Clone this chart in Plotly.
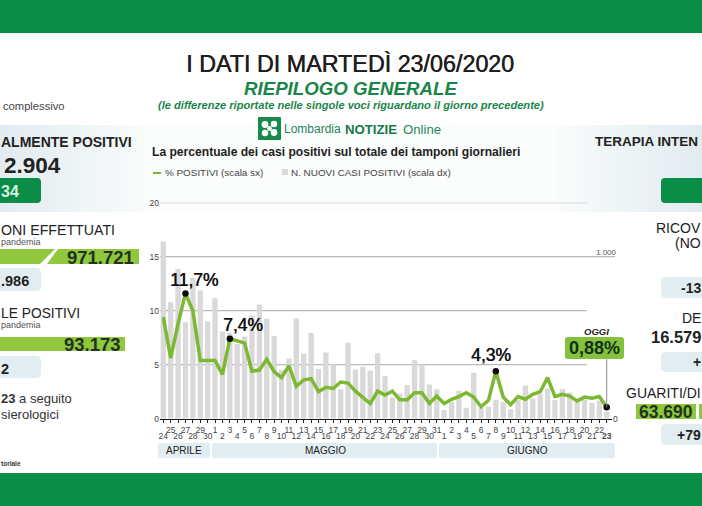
"""Lombardia daily bulletin: share of positive swabs and new cases, 23/06/2020."""
import plotly.graph_objects as go

W, H = 702, 506

# ── Data ─────────────────────────────────────────────────────────────────
day_labels = [
    '24', '25', '26', '27', '28', '29', '30',
    '1', '2', '3', '4', '5', '6', '7', '8', '9', '10', '11', '12', '13', '14', '15', '16',
    '17', '18', '19', '20', '21', '22', '23', '24', '25', '26', '27', '28', '29', '30', '31',
    '1', '2', '3', '4', '5', '6', '7', '8', '9', '10', '11', '12', '13', '14', '15', '16',
    '17', '18', '19', '20', '21', '22', '23',
]
new_cases = [
    1094, 719, 924, 596, 869, 791, 602,
    744, 539, 529, 463, 508, 637, 705, 617, 510, 300, 371, 619, 402, 529, 307, 408,
    336, 182, 469, 303, 320, 297, 404, 264, 131, 156, 207, 361, 334, 211, 182,
    53, 105, 172, 68, 283, 64, 74, 115, 105, 59, 115, 205, 125, 156, 186, 115,
    184, 162, 115, 119, 98, 111, 43,
]
pct_positive = [
    9.4, 5.6, 8.8, 11.6, 10.0, 5.4, 5.4,
    5.4, 4.1, 7.4, 7.2, 7.0, 4.4, 4.5, 5.5, 4.35, 3.8, 4.9, 3.0, 3.6, 3.7, 2.5, 2.9,
    2.8, 3.4, 3.3, 2.55, 2.0, 1.4, 2.55, 2.2, 2.55, 1.75, 1.75, 2.4, 2.4, 1.4, 2.1,
    1.4, 1.8, 2.05, 2.4, 2.0, 1.1, 1.7, 4.4, 2.0, 1.3, 2.05, 1.8, 2.25, 2.5, 3.8, 2.05,
    2.25, 2.1, 1.65, 2.0, 1.9, 2.05, 1.05,
]
highlight_days = [3, 9, 45, 60]
highlight_labels = ['11,7%', '7,4%', '4,3%']
left_ticks = [0, 5, 10, 15, 20]
months = ['APRILE', 'MAGGIO', 'GIUGNO']

days = list(range(len(day_labels)))

GREEN = '#0b8c47'
DARK_GREEN = '#1a8549'
LIME = '#8fc83c'
LINE_GREEN = '#7cb832'
PALE = '#e1edf0'
INK = '#222222'
FONT = 'Liberation Sans'


def px(x):
    return x / W


def py(y):
    return 1 - y / H


shapes = []
annotations = []


def rect(x0, y0, x1, y1, color, layer='below'):
    shapes.append(dict(type='rect', xref='paper', yref='paper', x0=px(x0), x1=px(x1),
                       y0=py(y0), y1=py(y1), fillcolor=color, line_width=0, layer=layer))


def poly(points, color):
    path = 'M ' + ' L '.join(f'{px(x):.5f} {py(y):.5f}' for x, y in points) + ' Z'
    shapes.append(dict(type='path', xref='paper', yref='paper', path=path,
                       fillcolor=color, line_width=0, layer='below'))


def round_box(x0, y0, x1, y1, color, r=4):
    # rounded corners, built as a path in paper units
    a, b, c, d = px(x0), px(x1), py(y0), py(y1)
    rx, ry = r / W, r / H
    path = (f'M {a + rx} {c} L {b - rx} {c} Q {b} {c} {b} {c - ry} L {b} {d + ry} '
            f'Q {b} {d} {b - rx} {d} L {a + rx} {d} Q {a} {d} {a} {d + ry} '
            f'L {a} {c - ry} Q {a} {c} {a + rx} {c} Z')
    shapes.append(dict(type='path', xref='paper', yref='paper', path=path,
                       fillcolor=color, line_width=0, layer='below'))


def text(x, y, s, size, color=INK, anchor='left', heavy=False):
    font = dict(family=FONT, size=size, color=color)
    if heavy:
        font['shadow'] = f'0.5px 0 0 {color}'
    annotations.append(dict(xref='paper', yref='paper', x=px(x), y=py(y), text=s,
                            showarrow=False, xanchor=anchor, yanchor='middle',
                            font=font, borderpad=0, borderwidth=0))


# ── Background bands and gradient panel ──────────────────────────────────
rect(0, 0, W, 33, GREEN)
rect(0, 473, W, H, GREEN)
rect(0, 125, W, 212, '#fbfcfc')
STEPS = 24
for i in range(STEPS):
    mix = 1 - i / STEPS
    r_, g_, b_ = (int(251 - (251 - 226) * mix), int(252 - (252 - 236) * mix), int(252 - (252 - 240) * mix))
    col = f'rgb({r_},{g_},{b_})'
    rect(i * 6, 125, (i + 1) * 6 + 0.5, 212, col)
    rect(W - (i + 1) * 6 - 0.5, 125, W - i * 6, 212, col)

# ── Header ───────────────────────────────────────────────────────────────
text(350, 64, 'I DATI DI MARTEDÌ 23/06/2020', 23.3, '#1e1e1e', 'center', heavy=True)
text(350, 89, '<b><i>RIEPILOGO GENERALE</i></b>', 18.7, DARK_GREEN, 'center')
text(351, 105, '<b><i>(le differenze riportate nelle singole voci riguardano il giorno precedente)</i></b>',
     11.1, DARK_GREEN, 'center')

# Logo
round_box(258, 117, 281, 140, '#17894b', r=1)
for dx, dy, s in [(-4.5, -4, 3.4), (4.5, -4.5, 3.2), (-4.5, 4.5, 3.2), (4.5, 4, 3.4), (0, 0, 2.4)]:
    shapes.append(dict(type='circle', xref='paper', yref='paper', fillcolor='#ffffff', line_width=0,
                       x0=px(269.5 + dx - s), x1=px(269.5 + dx + s),
                       y0=py(128.5 + dy + s), y1=py(128.5 + dy - s)))
text(284, 129, 'Lombardia', 12, '#27855a')
text(345, 129, '<b>NOTIZIE</b>', 13.2, '#17794b')
text(403, 129, 'Online', 13.2, '#27855a')

# Chart heading and hand-placed key
text(152, 152, '<b>La percentuale dei casi positivi sul totale dei tamponi giornalieri</b>', 12.1)
rect(153, 172, 161, 174, LINE_GREEN)
text(165, 172, '% POSITIVI (scala sx)', 9.9, '#444444')
rect(282, 169, 288, 175, '#d9d9d9')
text(291, 172, 'N. NUOVI CASI POSITIVI (scala dx)', 9.9, '#444444')

# ── Left column ──────────────────────────────────────────────────────────
text(3, 106, 'complessivo', 11.2, '#444444')
text(1, 142, '<b>ALMENTE POSITIVI</b>', 14)
text(4, 165, '<b>2.904</b>', 22.5)
round_box(-8, 178, 41, 203, GREEN, r=4)
text(1, 191, '<b>34</b>', 16, '#d8eee0')

text(1, 230, 'ONI EFFETTUATI', 14.2)
text(1, 242, 'pandemia', 9, '#555555')
poly([(0, 249), (55, 249), (40, 264), (0, 264)], LIME)
poly([(58, 249), (139, 249), (139, 264), (47, 264)], LIME)
text(67, 257, '<b>971.721</b>', 18.5, '#1f3320')
round_box(-8, 268, 41, 291, PALE, r=5)
text(1, 281, '<b>.986</b>', 14.5)

text(1, 313, 'LE POSITIVI', 13.8)
text(1, 325, 'pandemia', 9, '#555555')
rect(0, 337, 125, 351, LIME)
text(64, 344, '<b>93.173</b>', 18.5, '#1f3320')
round_box(-8, 356, 41, 378, PALE, r=5)
text(1, 369, '<b>2</b>', 14.5)

text(1, 398, '<b>23</b> a seguito', 13, '#333333')
text(1, 414, 'sierologici', 13, '#333333')
text(1, 463, '<b>toriale</b>', 6.5, '#333333')

# ── Right column ─────────────────────────────────────────────────────────
text(595, 142, '<b>TERAPIA INTEN</b>', 13.5)
round_box(661, 178, 710, 203, GREEN, r=4)
text(701, 228, 'RICOV', 14, anchor='right')
text(701, 243, '(NO', 14, anchor='right')
round_box(661, 277, 710, 298, PALE, r=5)
text(701, 288, '<b>-13</b>', 14, anchor='right')
text(701, 318, 'DE', 14, anchor='right')
text(701, 337, '<b>16.579</b>', 16.5, anchor='right')
round_box(661, 352, 710, 372, PALE, r=5)
text(701, 362, '<b>+</b>', 14, anchor='right')
text(701, 393, 'GUARITI/DI', 14, anchor='right')
rect(636, 404, 696, 419, LIME)
rect(699, 404, 702, 419, LIME)
text(639, 412, '<b>63.690</b>', 17.5, '#1f3320')
round_box(661, 424, 710, 445, PALE, r=5)
text(701, 435, '<b>+79</b>', 14, anchor='right')

# ── Chart ────────────────────────────────────────────────────────────────
PLOT_L, PLOT_R, PLOT_T, PLOT_B = 160, 612, 202.7, 418.7
DAY_PX = 443.4 / 60
x_range = [(PLOT_L - 163.3) / DAY_PX, (PLOT_R - 163.3) / DAY_PX]

# new cases live on the right-hand scale, where 1.000 lines up with 15 on the left
y_cases_max = 1000 * 20 / 15

for v in left_ticks[1:]:
    shapes.append(dict(type='line', xref='paper', yref='y2', x0=px(PLOT_L),
                       x1=px(615 if v == 15 else 587), y0=v, y1=v,
                       line=dict(color='#a8a8a8', width=1), layer='below'))

# Month strips
round_box(158, 443, 210, 458, PALE, r=2)
round_box(212, 443, 437, 458, PALE, r=2)
round_box(439, 443, 615, 458, PALE, r=2)
for mx, month in zip([184, 325, 527], months):
    text(mx, 450.5, month, 10, '#222222', 'center')

fig = go.Figure()

fig.add_trace(go.Bar(
    x=days, y=new_cases,
    name='N. NUOVI CASI POSITIVI (scala dx)',
    marker=dict(color='#d9d9d9', line_width=0),
    width=0.72,
    xaxis='x', yaxis='y',
))
fig.add_trace(go.Scatter(
    x=days, y=pct_positive,
    mode='lines',
    name='% POSITIVI (scala sx)',
    line=dict(color=LINE_GREEN, width=3.5),
    xaxis='x2', yaxis='y2',
))
fig.add_trace(go.Scatter(
    x=highlight_days, y=[pct_positive[d] for d in highlight_days],
    mode='markers',
    marker=dict(color='#0a0a0a', size=6.5),
    xaxis='x2', yaxis='y2',
))

# Callouts sit next to their points, in data coordinates
for d, lab, (dx, dy) in zip(highlight_days, highlight_labels, [(1.2, 1.2), (1.75, 1.25), (-0.7, 1.5)]):
    annotations.append(dict(xref='x2', yref='y2', x=d + dx, y=pct_positive[d] + dy, text=lab,
                            showarrow=False,
                            font=dict(family=FONT, size=17.5, color='#111111', shadow='0.5px 0 0 #111111')))

# Today's callout
shapes.append(dict(type='line', xref='x2', yref='y2', x0=60, x1=60, y0=pct_positive[60], y1=5.5,
                   line=dict(color='#8a8a8a', width=1), layer='above'))
round_box(565, 337, 624, 359, '#84c23c', r=3)
text(596, 331, '<b><i>OGGI</i></b>', 9.5, '#222222', 'center')
text(594.5, 348, '<b>0,88%</b>', 18, '#123018', 'center')

# Right scale labels
text(596, 252, '1.000', 8, '#555555')

axis_font = dict(family=FONT, size=8.5, color='#444444')
upper = days[1::2]
lower = days[0::2]
lower_text = [f'<b>{day_labels[d]}</b>' if d == days[-1] else day_labels[d] for d in lower]

fig.update_layout(
    width=W, height=H,
    autosize=False,
    margin=dict(l=0, r=0, t=0, b=0, autoexpand=False),
    paper_bgcolor='#ffffff',
    plot_bgcolor='rgba(0,0,0,0)',
    showlegend=False,
    bargap=0.25,
    font=dict(family=FONT, color=INK),
    shapes=shapes,
    annotations=annotations,
    xaxis=dict(
        domain=[px(PLOT_L), px(PLOT_R)], range=x_range, anchor='y', automargin=False,
        tickmode='array', tickvals=upper, ticktext=[day_labels[d] for d in upper],
        ticks='outside', ticklen=3, tickcolor='#222222', tickangle=0,
        showgrid=False, zeroline=False, showline=True, linecolor='#111111', linewidth=1,
        tickfont=axis_font,
    ),
    xaxis2=dict(
        domain=[px(PLOT_L), px(PLOT_R)], range=x_range, anchor='y', overlaying='x',
        side='bottom', automargin=False,
        tickmode='array', tickvals=lower, ticktext=lower_text,
        ticks='outside', ticklen=3, tickcolor='#222222', tickangle=0,
        ticklabelstandoff=6,
        showgrid=False, zeroline=False, tickfont=axis_font,
    ),
    yaxis=dict(
        domain=[py(PLOT_B), py(PLOT_T)], range=[0, y_cases_max], anchor='x', side='right', automargin=False,
        tickmode='array', tickvals=[0], ticktext=['0'],
        showgrid=False, zeroline=False, ticks='', tickfont=axis_font,
    ),
    yaxis2=dict(
        domain=[py(PLOT_B), py(PLOT_T)], range=[0, 20], anchor='x', overlaying='y', side='left', automargin=False,
        tickmode='array', tickvals=left_ticks,
        showgrid=False, zeroline=False, ticks='', tickfont=axis_font,
    ),
)

fig.write_html('out.html', config={'displayModeBar': False},
               post_script="document.body.style.margin='0';document.documentElement.style.overflow='hidden';")
